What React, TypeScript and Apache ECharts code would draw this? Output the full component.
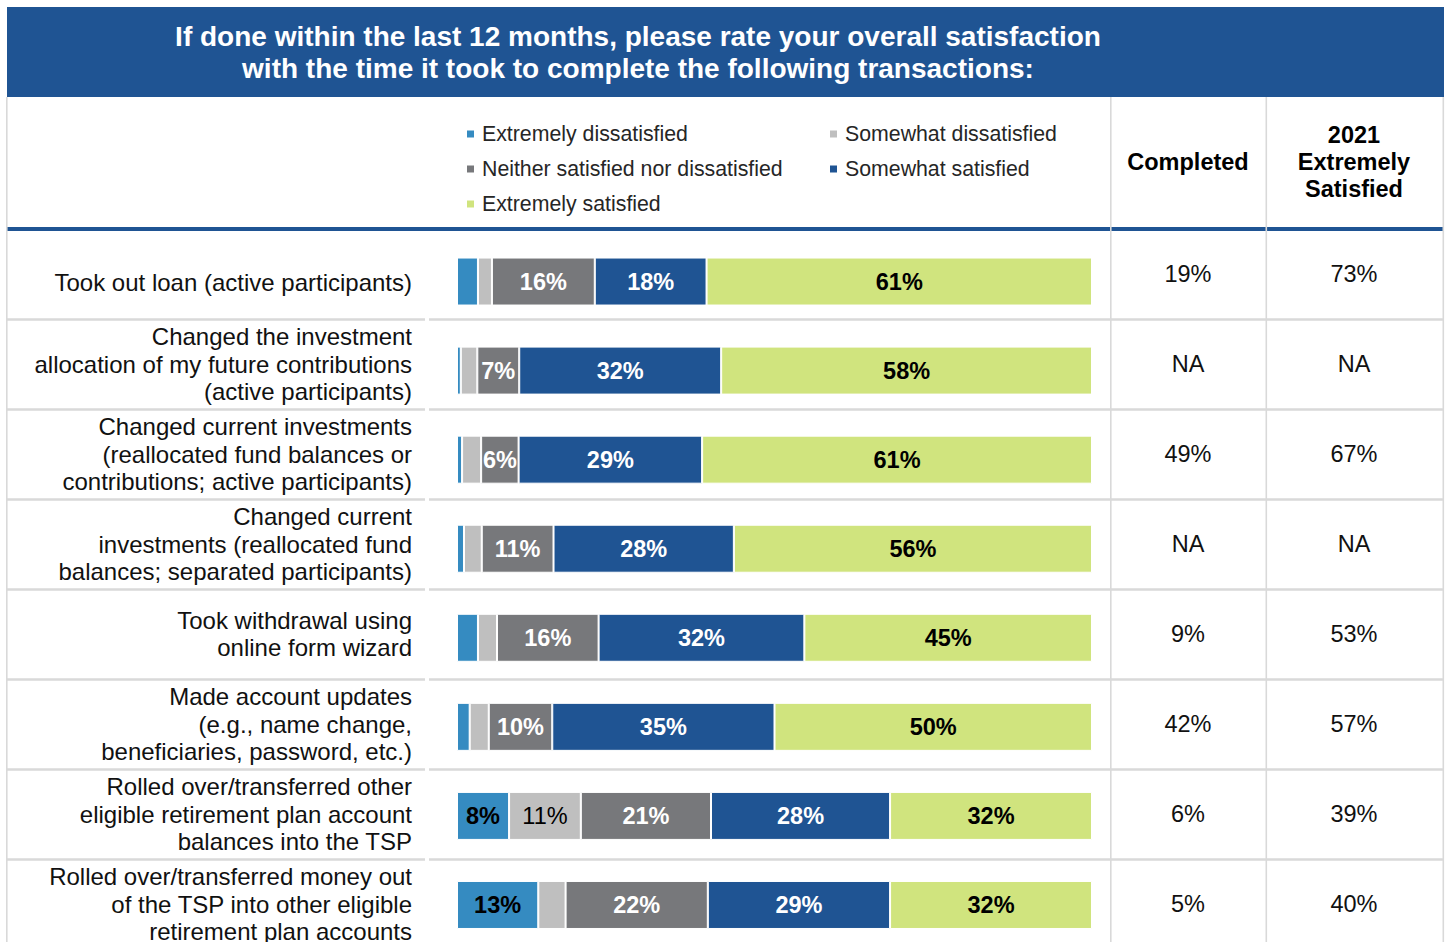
import React, { useEffect, useRef } from 'react';
import * as echarts from 'echarts';

const FONT = '"Liberation Sans", Arial, Helvetica, sans-serif';

const categories = [
  'Took out loan (active participants)',
  'Changed the investment\nallocation of my future contributions\n(active participants)',
  'Changed current investments\n(reallocated fund balances or\ncontributions; active participants)',
  'Changed current\ninvestments (reallocated fund\nbalances; separated participants)',
  'Took withdrawal using\nonline form wizard',
  'Made account updates\n(e.g., name change,\nbeneficiaries, password, etc.)',
  'Rolled over/transferred other\neligible retirement plan account\nbalances into the TSP',
  'Rolled over/transferred money out\nof the TSP into other eligible\nretirement plan accounts',
];

const seriesNames = [
  'Extremely dissatisfied',
  'Somewhat dissatisfied',
  'Neither satisfied nor dissatisfied',
  'Somewhat satisfied',
  'Extremely satisfied',
];

const extremelyDissatisfied = [3.3, 0.6, 0.8, 1.1, 3.3, 2, 8.2, 12.8];
const somewhatDissatisfied = [2.2, 2.6, 3.0, 2.8, 3.0, 3, 11.3, 4.3];
const neitherSatisfied = [16.2, 6.6, 5.9, 11.3, 16, 10, 20.5, 22.4];
const somewhatSatisfied = [17.6, 31.8, 28.9, 28.4, 32.4, 35, 28.2, 28.7];
const extremelySatisfied = [60.7, 58.4, 61.4, 56.4, 45.3, 50, 31.8, 31.8];

const completed = ['19%', 'NA', '49%', 'NA', '9%', '42%', '6%', '5%'];
const satisfied2021 = ['73%', 'NA', '67%', 'NA', '53%', '57%', '39%', '40%'];

const titleText =
  'If done within the last 12 months, please rate your overall satisfaction\nwith the time it took to complete the following transactions:';

const colors = ['#358BC1', '#BFBFBF', '#77787B', '#1F5493', '#D0E47E'];
const labelColors = ['#000', '#000', '#fff', '#fff', '#000'];
const labelWeights = ['bold', 'normal', 'bold', 'bold', 'bold'];

export default function App() {
  const ref = useRef<HTMLDivElement>(null);

  useEffect(() => {
    if (!ref.current) return;
    const chart = echarts.init(ref.current, undefined, { renderer: 'svg' });
    const values = [
      extremelyDissatisfied,
      somewhatDissatisfied,
      neitherSatisfied,
      somewhatSatisfied,
      extremelySatisfied,
    ];
    const series = values.map((data, i) => ({
      name: seriesNames[i],
      type: 'bar',
      stack: 'total',
      xAxisIndex: 0,
      yAxisIndex: 0,
      barWidth: 48,
      data,
      itemStyle: { color: colors[i], borderColor: '#fff', borderWidth: 1 },
      label: {
        show: true,
        position: 'inside',
        color: labelColors[i],
        fontWeight: labelWeights[i],
        fontSize: 23.5,
        fontFamily: FONT,
        formatter: (p: any) => (p.value >= 5 ? Math.round(p.value) + '%' : ''),
      },
    }));

    const legendText = { fontSize: 21.3, lineHeight: 21, color: '#262626', fontFamily: FONT, padding: [0, 0, 0, 3] };
    const legendBase = {
      orient: 'vertical',
      top: 123.5,
      padding: 0,
      itemWidth: 7,
      itemHeight: 7,
      itemGap: 14,
      icon: 'rect',
      selectedMode: false,
      itemStyle: { borderWidth: 0 },
      textStyle: legendText,
    };

    const vline = (x: number) => ({
      type: 'rect',
      z: 100,
      shape: { x, y: 97, width: 1.6, height: 845 },
      style: { fill: '#d9d9d9' },
    });

    chart.setOption({
      animation: false,
      textStyle: { fontFamily: FONT },
      legend: [
        { ...legendBase, left: 467, data: [seriesNames[0], seriesNames[2], seriesNames[4]] },
        { ...legendBase, left: 830, data: [seriesNames[1], seriesNames[3]] },
      ],
      grid: [
        { left: 457, width: 635, top: 237, height: 712.5, outerBoundsMode: 'none', containLabel: false },
        { left: 7, width: 1436, top: 229, height: 720, outerBoundsMode: 'none', containLabel: false },
      ],
      xAxis: [
        { type: 'value', gridIndex: 0, min: 0, max: 100, show: false },
        { type: 'value', gridIndex: 1, min: 0, max: 1, show: false },
      ],
      yAxis: [
        { type: 'category', gridIndex: 0, data: categories, inverse: true, show: false },
        {
          type: 'category',
          gridIndex: 1,
          data: categories,
          inverse: true,
          position: 'left',
          axisLine: { show: false },
          axisTick: { show: false },
          axisLabel: {
            interval: 0,
            margin: -405,
            fontSize: 24,
            lineHeight: 27.5,
            color: '#111',
            fontFamily: FONT,
            formatter: (v: string, i: number) => (i === 0 ? '{low|' + v + '}' : v),
            rich: {
              low: { fontSize: 24, lineHeight: 27.5, color: '#111', fontFamily: FONT, padding: [16, 0, 0, 0] },
            },
          },
          splitLine: { show: true, interval: 0, lineStyle: { color: '#d9d9d9', width: 2.5 } },
        },
        {
          type: 'category',
          gridIndex: 1,
          data: categories,
          inverse: true,
          position: 'right',
          axisLine: { show: false },
          axisTick: { show: false },
          splitLine: { show: false },
          axisLabel: {
            interval: 0,
            margin: -255,
            align: 'center',
            fontSize: 23.5,
            color: '#111',
            fontFamily: FONT,
            formatter: (_v: string, i: number) => completed[i],
          },
        },
        {
          type: 'category',
          gridIndex: 1,
          data: categories,
          inverse: true,
          position: 'right',
          axisLine: { show: false },
          axisTick: { show: false },
          splitLine: { show: false },
          axisLabel: {
            interval: 0,
            margin: -89,
            align: 'center',
            fontSize: 23.5,
            color: '#111',
            fontFamily: FONT,
            formatter: (_v: string, i: number) => satisfied2021[i],
          },
        },
      ],
      graphic: [
        {
          type: 'rect',
          z: 100,
          shape: { x: 7, y: 7, width: 1437, height: 90 },
          style: { fill: '#1F5493' },
        },
        {
          type: 'text',
          z: 101,
          x: 638,
          y: 52,
          style: {
            text: titleText,
            align: 'center',
            verticalAlign: 'middle',
            fill: '#fff',
            fontSize: 28,
            fontWeight: 'bold',
            fontFamily: FONT,
            lineHeight: 32,
          },
        },
        {
          type: 'text',
          z: 101,
          x: 1188,
          y: 162,
          style: {
            text: 'Completed',
            align: 'center',
            verticalAlign: 'middle',
            fill: '#000',
            fontSize: 23.5,
            fontWeight: 'bold',
            fontFamily: FONT,
          },
        },
        {
          type: 'text',
          z: 101,
          x: 1354,
          y: 162,
          style: {
            text: '2021\nExtremely\nSatisfied',
            align: 'center',
            verticalAlign: 'middle',
            fill: '#000',
            fontSize: 23.5,
            fontWeight: 'bold',
            fontFamily: FONT,
            lineHeight: 27,
          },
        },
        {
          type: 'rect',
          z: 100,
          shape: { x: 7, y: 227, width: 1437, height: 4 },
          style: { fill: '#1F5493' },
        },
        {
          type: 'rect',
          z: 99,
          shape: { x: 425, y: 232, width: 4, height: 710 },
          style: { fill: '#fff' },
        },
        vline(6),
        vline(1110),
        vline(1265.5),
        vline(1442.5),
      ],
      series,
    });
    return () => chart.dispose();
  }, []);

  return (
    <div
      ref={ref}
      style={{ position: 'absolute', left: 0, top: 0, width: 1448, height: 942 }}
    />
  );
}
